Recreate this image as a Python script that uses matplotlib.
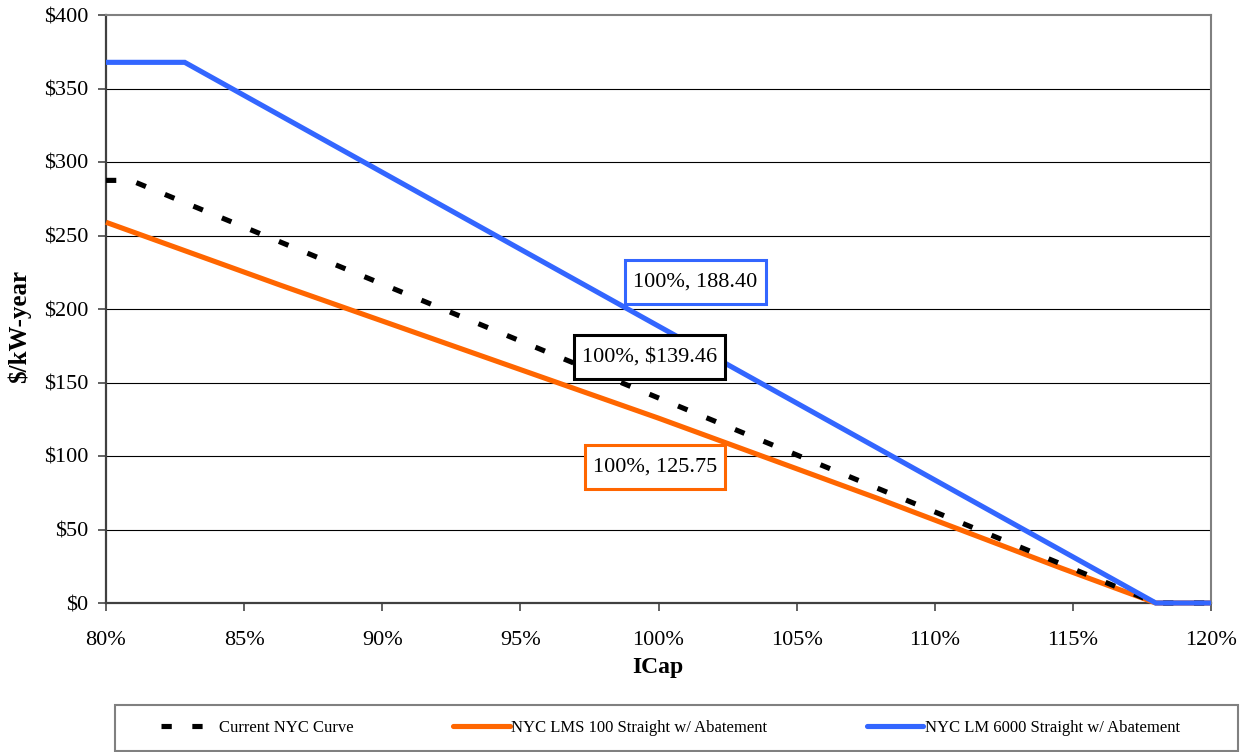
import matplotlib
matplotlib.use("Agg")
import matplotlib.pyplot as plt
from matplotlib.lines import Line2D
from matplotlib.patches import Rectangle
from matplotlib.path import Path

plt.rcParams["font.family"] = ["Liberation Serif", "DejaVu Serif"]

# ICap (% of requirement) vs $/kW-year
icap_current = [80, 80.9, 118, 120]
price_current = [287.5, 287.5, 0, 0]

icap_lms100 = [80, 86.3, 100, 108, 114.6, 118, 120]
price_lms100 = [259, 216.3, 125.75, 70.7, 23.6, 0, 0]

icap_lm6000 = [80, 82.85, 118, 120]
price_lm6000 = [367.8, 367.8, 0, 0]

series_labels = [
    "Current NYC Curve",
    "NYC LMS 100 Straight w/ Abatement",
    "NYC LM 6000 Straight w/ Abatement",
]

# annotation labels at 100% ICap
note_texts = ["100%, 188.40", "100%, $139.46", "100%, 125.75"]
note_x = [101.34, 99.66, 99.87]
note_y = [218.4, 167.3, 92.5]

x_ticks = [80, 85, 90, 95, 100, 105, 110, 115, 120]
y_ticks = [0, 50, 100, 150, 200, 250, 300, 350, 400]

ORANGE = "#FF6600"
BLUE = "#3366FF"
BLACK = "#000000"


def label_box(x0, y0, width, height, mutation_size):
    # rectangle with more vertical than horizontal padding, like the Excel labels
    px = 0.36 * mutation_size
    py = 0.56 * mutation_size
    x0, y0 = x0 - px, y0 - py
    x1, y1 = x0 + width + 2 * px, y0 + height + 2 * py
    return Path([(x0, y0), (x1, y0), (x1, y1), (x0, y1), (x0, y0)], closed=True)


W, H = 1251, 752
fig = plt.figure(figsize=(W / 100, H / 100), dpi=100)
ax = fig.add_axes([106 / W, 1 - 603 / H, (1211 - 106) / W, (603 - 15) / H])

for y in y_ticks[1:-1]:
    ax.axhline(y, color="black", linewidth=0.8, zorder=1)

lw = 3.7
ax.plot(icap_lms100, price_lms100, color=ORANGE, linewidth=lw, clip_on=False,
        solid_capstyle="butt", solid_joinstyle="miter", zorder=3)
ax.plot(icap_current, price_current, color=BLACK, linewidth=lw, clip_on=False,
        dashes=(2, 4), dash_capstyle="butt", zorder=4)
ax.plot(icap_lm6000, price_lm6000, color=BLUE, linewidth=lw, clip_on=False,
        solid_capstyle="butt", solid_joinstyle="miter", zorder=5)

edge_colors = [BLUE, BLACK, ORANGE]
for text, x, y, ec in zip(note_texts, note_x, note_y, edge_colors):
    ax.text(x, y, text, ha="center", va="center", fontsize=16, zorder=6,
            bbox=dict(boxstyle=label_box, facecolor="white",
                      edgecolor=ec, linewidth=2.2))

ax.set_xlim(80, 120)
ax.set_ylim(0, 400)
ax.set_xticks(x_ticks)
ax.set_xticklabels([f"{v}%" for v in x_ticks])
ax.set_yticks(y_ticks)
ax.set_yticklabels([f"${v}" for v in y_ticks])
ax.tick_params(axis="both", labelsize=16, direction="out", length=6,
               width=1.3, color="#555555")
ax.tick_params(axis="x", pad=14)
ax.tick_params(axis="y", pad=7)

for side in ["top", "right"]:
    ax.spines[side].set_color("#808080")
    ax.spines[side].set_linewidth(1.5)
for side in ["left", "bottom"]:
    ax.spines[side].set_color("#404040")
    ax.spines[side].set_linewidth(1.6)
    ax.spines[side].set_zorder(2)

fig.text(658 / W, 1 - 668 / H, "ICap", ha="center", va="center",
         fontsize=17, fontweight="bold")
fig.text(19 / W, 1 - 326 / H, "$/kW-year", ha="center", va="center",
         rotation=90, fontsize=18, fontweight="bold")

# legend box below the chart
fig.patches.append(Rectangle((115 / W, 1 - 751 / H), (1238 - 115) / W, 46 / H,
                             transform=fig.transFigure, facecolor="white",
                             edgecolor="#808080", linewidth=1.5))
handles = [
    Line2D([], [], color=BLACK, linewidth=lw, dashes=(2, 4), dash_capstyle="butt"),
    Line2D([], [], color=ORANGE, linewidth=lw, solid_capstyle="round"),
    Line2D([], [], color=BLUE, linewidth=lw, solid_capstyle="round"),
]
fig.legend(handles, series_labels, loc="center",
           bbox_to_anchor=(161 / W, 1 - 728 / H, (1180 - 161) / W, 0),
           mode="expand", ncol=3, frameon=False, fontsize=12,
           handlelength=3.4, handletextpad=0.1, borderpad=0, borderaxespad=0)

fig.savefig("out.png", dpi=100)
